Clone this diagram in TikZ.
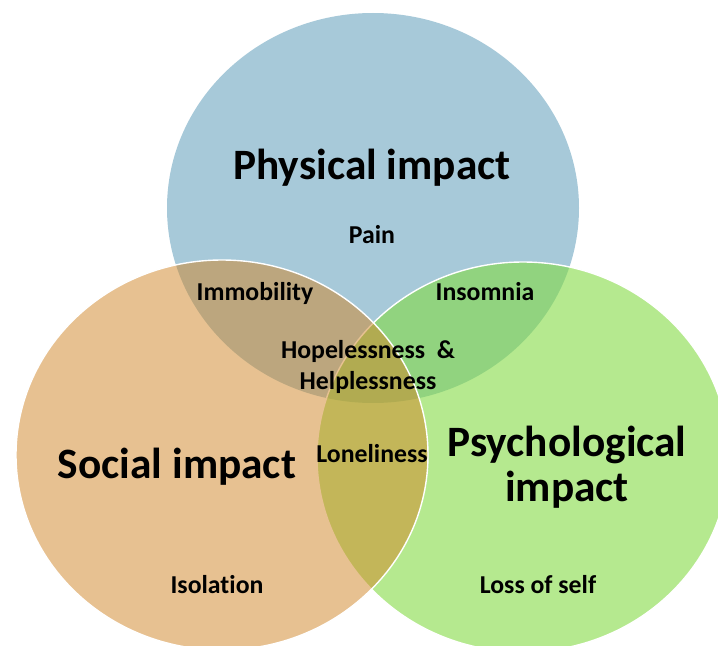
\documentclass[tikz,border=0pt]{standalone}
\usepackage{fontspec}
\setmainfont{Carlito}[Ligatures=NoCommon]
\definecolor{physblue}{RGB}{167,201,217}
\definecolor{psygreen}{RGB}{130,219,65}
\definecolor{socorange}{RGB}{209,133,37}

\begin{document}
\begin{tikzpicture}[x=0.03cm,y=-0.03cm,
    venn/.style={draw=white,line width=1.2pt},
    bigtxt/.style={font=\bfseries\fontsize{37}{38.5}\selectfont,align=center},
    smalltxt/.style={font=\bfseries\fontsize{22}{27}\selectfont,align=center}]

    % Frame
    \clip (0,0) rectangle (718,646);
    \fill[white] (0,0) rectangle (718,646);

    % Centres
    \coordinate (phys) at (373,208);
    \coordinate (psy) at (523,457);
    \coordinate (soc) at (222,455);

    % Circles
    \fill[physblue] (phys) ellipse (206 and 195);
    \draw[venn,fill=psygreen,fill opacity=0.59] (psy) ellipse (206 and 195);
    \draw[venn,fill=socorange,fill opacity=0.5] (soc) ellipse (206 and 195);

    % Titles
    \node[bigtxt,anchor=base] (physlbl) at (372,180) {Physical impact};
    \node[bigtxt,anchor=base] (soclbl) at (177,478) {Social impact};
    \node[bigtxt] (psylbl) at (567,467) {Psychological\\impact};

    % Single regions
    \node[smalltxt,anchor=base] (pain) at (372,243) {Pain};
    \node[smalltxt,anchor=base] (isol) at (217,593) {Isolation};
    \node[smalltxt,anchor=base] (loss) at (538,593) {Loss of self};

    % Overlaps
    \node[smalltxt,anchor=base] (immob) at (255,300) {Immobility};
    \node[smalltxt,anchor=base] (insom) at (485,300) {Insomnia};
    \node[smalltxt,anchor=base] (lonely) at (372,462) {Loneliness};
    \node[smalltxt] (hope) at (368,367) {Hopelessness\hspace{0.45em}\&\\Helplessness};
\end{tikzpicture}
\end{document}
